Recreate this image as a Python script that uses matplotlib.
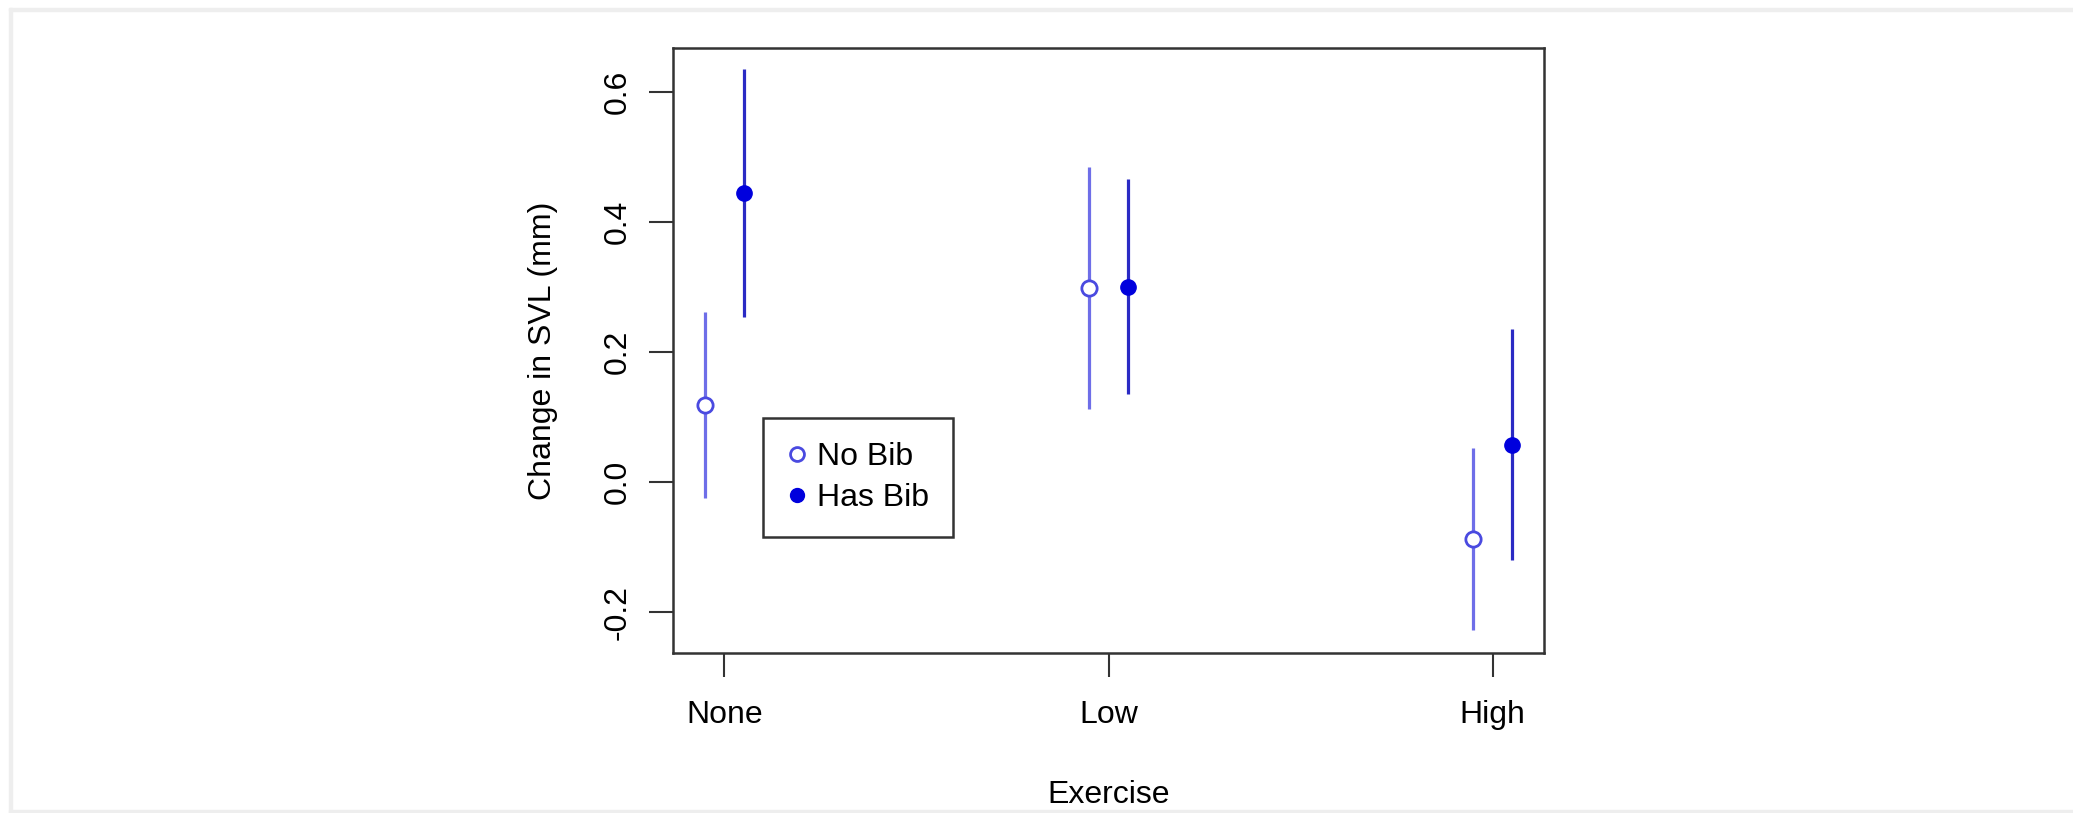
import matplotlib
matplotlib.use("Agg")
import matplotlib.pyplot as plt
import numpy as np
from matplotlib.lines import Line2D
from matplotlib.patches import Rectangle

# data
exercise = ["None", "Low", "High"]
nobib_mean = [0.118, 0.298, -0.087]
nobib_lo = [-0.024, 0.112, -0.227]
nobib_hi = [0.262, 0.485, 0.053]
hasbib_mean = [0.445, 0.300, 0.057]
hasbib_lo = [0.254, 0.136, -0.120]
hasbib_hi = [0.636, 0.467, 0.236]

plt.rcParams['font.family'] = ['Liberation Sans', 'DejaVu Sans']
fs = 23

fig = plt.figure(figsize=(20.73, 8.13), dpi=100)
ax = fig.add_axes([673/2073, 1-653/813, (1544-673)/2073, (653-48)/813])

x = np.arange(1, len(exercise)+1)
off = 0.05

c_no_line = "#6e6ee8"
c_no_mark = "#4a4ae0"
c_has_line = "#2a2ac4"
c_has_mark = "#0000dd"

ax.vlines(x-off, nobib_lo, nobib_hi, color=c_no_line, lw=2.3)
ax.vlines(x+off, hasbib_lo, hasbib_hi, color=c_has_line, lw=2.3)
ax.plot(x-off, nobib_mean, "o", mfc="white", mec=c_no_mark, mew=2, ms=11)
ax.plot(x+off, hasbib_mean, "o", mfc=c_has_mark, mec=c_has_mark, ms=11)

ax.set_xlim(0.866, 3.134)
ax.set_ylim(-0.263, 0.668)
ax.set_xticks(x)
ax.set_xticklabels(exercise)
ax.set_yticks([-0.2, 0.0, 0.2, 0.4, 0.6])
ax.set_yticklabels(["-0.2", "0.0", "0.2", "0.4", "0.6"], rotation=90, va="center")
ax.tick_params(labelsize=fs, length=17, width=1.5, color="#333333")
ax.tick_params(axis="x", pad=17)
ax.tick_params(axis="y", pad=12)
for s in ax.spines.values():
    s.set_linewidth(1.8)
    s.set_color("#333333")

ax.set_xlabel("Exercise", fontsize=fs, labelpad=36)
ax.set_ylabel("Change in SVL (mm)", fontsize=fs, labelpad=32)

handles = [
    Line2D([], [], ls="none", marker="o", mfc="white", mec=c_no_mark, mew=2, ms=10),
    Line2D([], [], ls="none", marker="o", mfc=c_has_mark, mec=c_has_mark, ms=10),
]
leg = ax.legend(handles, ["No Bib", "Has Bib"], loc="upper left",
                bbox_to_anchor=(763/2073, 1-418/813), bbox_transform=fig.transFigure,
                borderaxespad=0, fancybox=False, edgecolor="#333333", framealpha=1,
                fontsize=fs, handlelength=0.6, handletextpad=0.35, labelspacing=0.35,
                borderpad=0.75)
leg.get_frame().set_linewidth(1.8)

# light grey frame of the screenshot
grey = "#eeeeee"
fig.patches.append(Rectangle((9/2073, 1-11/813), 1, 3/813, transform=fig.transFigure, color=grey))
fig.patches.append(Rectangle((9/2073, 0), 3/2073, 1-8/813, transform=fig.transFigure, color=grey))
fig.patches.append(Rectangle((9/2073, 0), 1, 3/813, transform=fig.transFigure, color=grey))

fig.savefig("out.png", dpi=100)
